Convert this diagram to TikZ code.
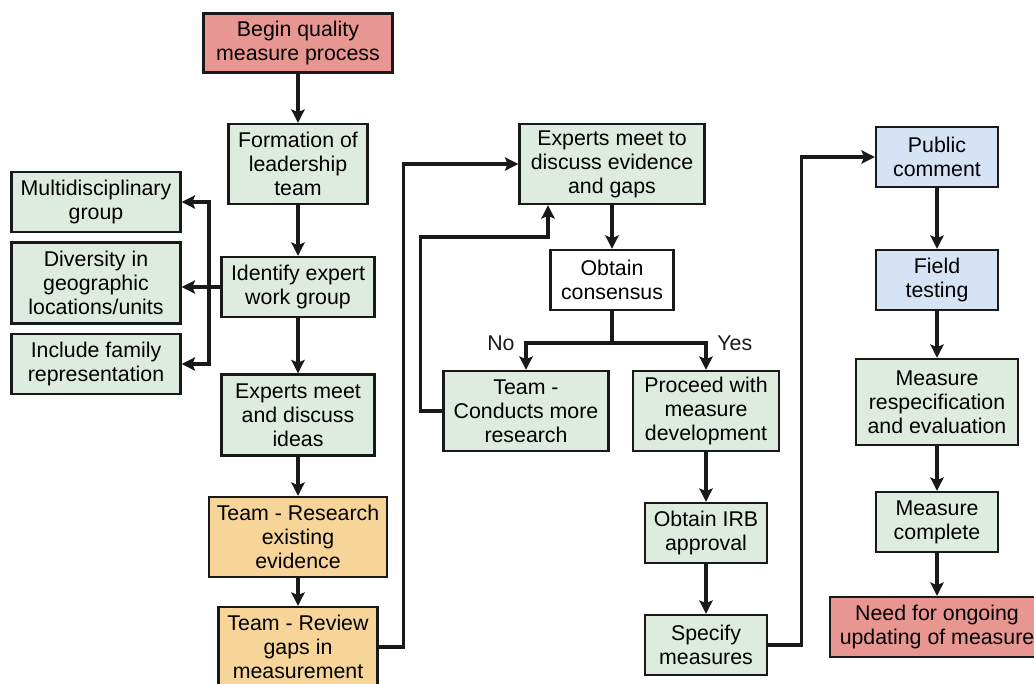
\documentclass[tikz,border=0pt]{standalone}
\usepackage{fontspec}
\setmainfont{Liberation Sans}
\usetikzlibrary{arrows.meta, positioning}

\definecolor{boxgreen}{RGB}{222,236,223}
\definecolor{boxred}{RGB}{232,150,146}
\definecolor{boxorange}{RGB}{247,213,153}
\definecolor{boxblue}{RGB}{213,227,245}
\definecolor{linegray}{RGB}{25,25,25}

\tikzset{
  stepbox/.style={draw=linegray, line width=1.8pt, rectangle, inner sep=0pt, align=center,
    font=\fontsize{16}{18}\selectfont},
  sz/.style 2 args={minimum width=#1*0.75pt, minimum height=#2*0.75pt},
  link/.style={color=linegray, line width=2.5pt},
  linkarrow/.style={link, -{Stealth[length=10pt, width=10pt, inset=2pt]}},
  lbl/.style={font=\fontsize{16}{18}\selectfont},
}

\begin{document}
\begin{tikzpicture}[x=0.75pt, y=-0.75pt]
    \useasboundingbox (0,0) rectangle (1034,683);

    % Columna izquierda
    \node (begin) [stepbox, fill=boxred, sz={189}{59}] at (298,43) {Begin quality\\measure process};
    \node (form) [stepbox, fill=boxgreen, sz={139}{80}] at (298,164) {Formation of\\leadership\\team};
    \node (ident) [stepbox, fill=boxgreen, sz={153}{60}] at (298,287) {Identify expert\\work group};
    \node (ideas) [stepbox, fill=boxgreen, sz={153}{81}] at (298,415) {Experts meet\\and discuss\\ideas};
    \node (research) [stepbox, fill=boxorange, sz={178}{80}] at (298,537) {Team - Research\\existing\\evidence};
    \node (review) [stepbox, fill=boxorange, sz={159}{80}] at (298,647) {Team - Review\\gaps in\\measurement};

    % Grupo de expertos
    \node (multi) [stepbox, fill=boxgreen, sz={169}{60}] at (96,202) {Multidisciplinary\\group};
    \node (div) [stepbox, fill=boxgreen, sz={169}{81}] at (96,283) {Diversity in\\geographic\\locations/units};
    \node (family) [stepbox, fill=boxgreen, sz={169}{60}] at (96,364) {Include family\\representation};

    % Columna central
    \node (evid) [stepbox, fill=boxgreen, sz={185}{80}] at (612,164) {Experts meet to\\discuss evidence\\and gaps};
    \node (consensus) [stepbox, fill=white, sz={123}{60}] at (612,280) {Obtain\\consensus};
    \node (conduct) [stepbox, fill=boxgreen, sz={165}{80}] at (526,411) {Team -\\Conducts more\\research};
    \node (proceed) [stepbox, fill=boxgreen, sz={146}{80}] at (706,411) {Proceed with\\measure\\development};
    \node (irb) [stepbox, fill=boxgreen, sz={122}{60}] at (706,533) {Obtain IRB\\approval};
    \node (specify) [stepbox, fill=boxgreen, sz={122}{60}] at (706,645) {Specify\\measures};

    % Columna derecha
    \node (public) [stepbox, fill=boxblue, sz={122}{60}] at (937,157) {Public\\comment};
    \node (field) [stepbox, fill=boxblue, sz={122}{60}] at (937,280) {Field\\testing};
    \node (respec) [stepbox, fill=boxgreen, sz={162}{86}] at (937,402) {Measure\\respecification\\and evaluation};
    \node (complete) [stepbox, fill=boxgreen, sz={122}{60}] at (937,522) {Measure\\complete};
    \node (need) [stepbox, fill=boxred, sz={214}{60}] at (937,627) {Need for ongoing\\updating of measure};

    \coordinate (fork) at (209,287);
    \coordinate (branch) at (612,343);
    \coordinate (loop) at (548,237);

    % Conexiones
    \draw[linkarrow] (begin) -- (form);
    \draw[linkarrow] (form) -- (ident);
    \draw[linkarrow] (ident) -- (ideas);
    \draw[linkarrow] (ideas) -- (research);
    \draw[linkarrow] (research) -- (review);

    \draw[linkarrow] (ident.west) -- (div.east |- ident.west);
    \draw[linkarrow] (fork) |- (multi);
    \draw[linkarrow] (fork) |- (family);

    \draw[linkarrow] (review.east) -- ++(25,0) |- (evid.west);
    \draw[linkarrow] (evid) -- (consensus);
    \draw[link] (consensus) -- (branch);
    \draw[linkarrow] (branch) -| node[lbl, left, xshift=-4pt] {No} (conduct);
    \draw[linkarrow] (branch) -| node[lbl, right, xshift=4pt] {Yes} (proceed);
    \draw[linkarrow] (conduct.west) -- ++(-22,0) |- (loop) -- (loop |- evid.south);
    \draw[linkarrow] (proceed) -- (irb);
    \draw[linkarrow] (irb) -- (specify);

    \draw[linkarrow] (specify.east) -- ++(33,0) |- (public.west);
    \draw[linkarrow] (public) -- (field);
    \draw[linkarrow] (field) -- (respec);
    \draw[linkarrow] (respec) -- (complete);
    \draw[linkarrow] (complete) -- (need);
\end{tikzpicture}
\end{document}
